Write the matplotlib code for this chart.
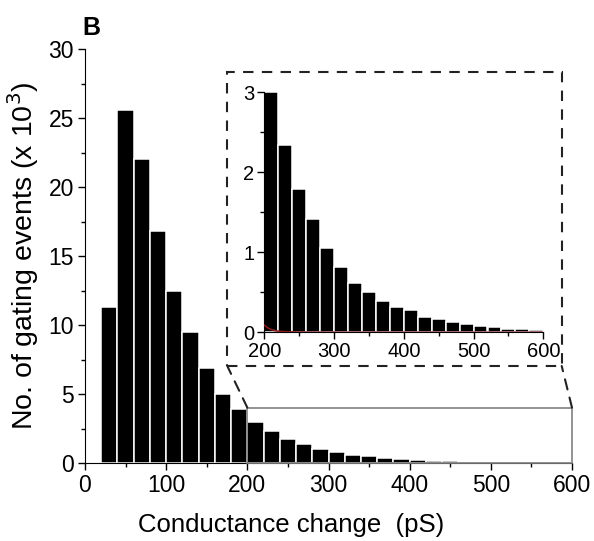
import matplotlib
matplotlib.use("Agg")
import matplotlib.pyplot as plt
from matplotlib.patches import Rectangle, ConnectionPatch
from matplotlib.ticker import MultipleLocator

plt.rcParams['font.family'] = ['Liberation Sans', 'DejaVu Sans']

# Histogram bins (left edges, pS) and counts (x 10^3)
bin_left = [20, 40, 60, 80, 100, 120, 140, 160, 180, 200, 220, 240, 260, 280,
            300, 320, 340, 360, 380, 400, 420, 440, 460, 480, 500, 520, 540, 560, 580]
counts = [11.3, 25.55, 22.07, 16.8, 12.5, 9.5, 6.93, 5.0, 3.95,
          3.0, 2.34, 1.79, 1.42, 1.06, 0.82, 0.62, 0.50, 0.395, 0.316,
          0.275, 0.195, 0.17, 0.125, 0.104, 0.079, 0.07, 0.045, 0.041, 0.025]
bin_width = 20

# Fit curve in inset (x 10^3)
fit_x = [200, 203, 206, 210, 215, 220, 230, 245, 270, 320, 400, 600]
fit_y = [0.09, 0.07, 0.05, 0.035, 0.022, 0.014, 0.007, 0.003, 0.001, 0.0, 0.0, 0.0]

fig = plt.figure(figsize=(5.94, 5.41), dpi=100)
W, H = 594, 541

ax = fig.add_axes([85 / W, 1 - 463.3 / H, (572 - 85) / W, (463.3 - 49) / H])
ax.bar(bin_left, counts, width=bin_width, align='edge', color='black',
       edgecolor='white', linewidth=1.1)
ax.set_xlim(0, 600)
ax.set_ylim(0, 30)
ax.spines['top'].set_visible(False)
ax.spines['right'].set_visible(False)
ax.xaxis.set_major_locator(MultipleLocator(100))
ax.xaxis.set_minor_locator(MultipleLocator(50))
ax.yaxis.set_major_locator(MultipleLocator(5))
ax.yaxis.set_minor_locator(MultipleLocator(2.5))
ax.tick_params(which='major', direction='out', length=5, width=1, labelsize=16.5, pad=3)
ax.tick_params(which='minor', direction='out', length=3, width=1)
ax.set_ylabel('No. of gating events (x 10$^3$)', fontsize=20.5, labelpad=5)

# x label (slightly left of axes centre in the reference)
fig.text(291 / W, 1 - 532 / H, 'Conductance change  (pS)', fontsize=18.5,
         ha='center', va='baseline')

# zoom rectangle on main axes
ax.add_patch(Rectangle((200, 0), 400, 4.03, fill=False, edgecolor='#808080',
                       linewidth=1.2, zorder=3, clip_on=False))

# Inset
iax = fig.add_axes([264.3 / W, 1 - 332.3 / H, (543.3 - 264.3) / W, (332.3 - 92.3) / H])
iax.bar(bin_left[9:], counts[9:], width=bin_width, align='edge', color='black',
        edgecolor='white', linewidth=1.1)
iax.plot(fit_x, fit_y, color='#8b1a1a', linewidth=1.2, zorder=4)
iax.set_xlim(200, 600)
iax.set_ylim(0, 3)
iax.spines['top'].set_visible(False)
iax.spines['right'].set_visible(False)
iax.xaxis.set_major_locator(MultipleLocator(100))
iax.xaxis.set_minor_locator(MultipleLocator(50))
iax.yaxis.set_major_locator(MultipleLocator(1))
iax.yaxis.set_minor_locator(MultipleLocator(0.5))
iax.tick_params(which='major', direction='out', length=5, width=1, labelsize=14.5, pad=2)
iax.tick_params(which='minor', direction='out', length=3, width=1)

# Dashed inset frame in figure coordinates
bx0, by0, bx1, by1 = 227.3 / W, 1 - 366 / H, 561.7 / W, 1 - 72.3 / H
fig.patches.append(Rectangle((bx0, by0), bx1 - bx0, by1 - by0, transform=fig.transFigure,
                             fill=False, edgecolor='#222222', linewidth=1.5,
                             linestyle=(0, (5, 4))))
for xd, xf in [(200, bx0), (600, bx1)]:
    con = ConnectionPatch(xyA=(xd, 4.03), coordsA=ax.transData,
                          xyB=(xf, by0), coordsB=fig.transFigure,
                          color='#222222', linewidth=1.5, linestyle=(0, (5, 4)))
    fig.add_artist(con)

fig.text(82 / W, 1 - 35 / H, 'B', fontsize=18, fontweight='bold')

fig.savefig('out.png', dpi=100)
